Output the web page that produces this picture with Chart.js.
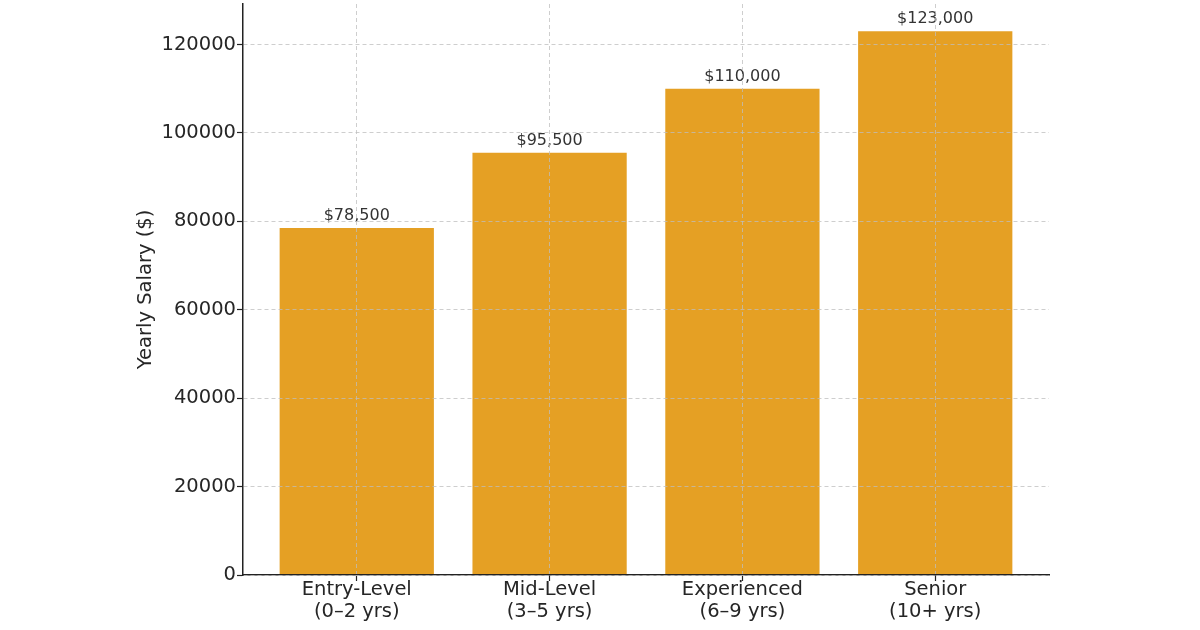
<!DOCTYPE html>
<html>
<head>
<meta charset="utf-8">
<title>Yearly Salary by Experience Level</title>
<script src="https://cdn.jsdelivr.net/npm/chart.js@4.4.0/dist/chart.umd.min.js"></script>
<style>
  html, body { margin: 0; padding: 0; background: #ffffff; overflow: hidden; }
  #wrap { width: 1200px; height: 660px; }
</style>
</head>
<body>
<div id="wrap"><canvas id="salaryChart" width="1200" height="660"></canvas></div>
<script>
// data
const categories = [
  ["Entry-Level", "(0–2 yrs)"],
  ["Mid-Level", "(3–5 yrs)"],
  ["Experienced", "(6–9 yrs)"],
  ["Senior", "(10+ yrs)"]
];
const salaries = [78500, 95500, 110000, 123000];
const yTicks = [0, 20000, 40000, 60000, 80000, 100000, 120000];
const yMax = 129150;
const xMin = -0.59;
const xMax = 3.59;

Chart.defaults.font.family = "'DejaVu Sans', sans-serif";
Chart.defaults.color = "#262626";

// "$78,500" style labels over each bar
const barLabels = {
  id: "barLabels",
  afterDatasetsDraw(chart) {
    const ctx = chart.ctx;
    const meta = chart.getDatasetMeta(0);
    ctx.save();
    ctx.font = "16px 'DejaVu Sans'";
    ctx.fillStyle = "#333333";
    ctx.textAlign = "center";
    ctx.textBaseline = "alphabetic";
    meta.data.forEach((bar, i) => {
      ctx.fillText("$" + salaries[i].toLocaleString("en-US"), bar.x, bar.y - 8);
    });
    ctx.restore();
  }
};

const gridOpts = {
  z: 1,
  offset: false,
  color: "rgba(190,190,190,0.75)",
  lineWidth: 1,
  drawTicks: true,
  tickLength: 6,
  tickColor: "#222222",
  tickWidth: 1.2,
  tickBorderDash: []
};
const borderOpts = { display: true, z: 1, color: "#222222", width: 1.5, dash: [4, 3] };

const ctx = document.getElementById("salaryChart").getContext("2d");

new Chart(ctx, {
  type: "bar",
  data: {
    datasets: [{
      label: "Yearly Salary",
      data: salaries.map((v, i) => ({ x: i, y: v })),
      backgroundColor: "#E5A024",
      borderWidth: 0,
      barPercentage: 0.8,
      categoryPercentage: 1.0
    }]
  },
  options: {
    responsive: false,
    animation: false,
    layout: { padding: { left: 130, right: 151, top: 4, bottom: 3 } },
    plugins: {
      legend: { display: false },
      tooltip: { enabled: false }
    },
    scales: {
      x: {
        type: "linear",
        offset: false,
        min: xMin,
        max: xMax,
        afterBuildTicks: (scale) => { scale.ticks = categories.map((c, i) => ({ value: i })); },
        afterFit: (scale) => {
          scale.height = 82;
          scale.paddingLeft = 0;
          scale.paddingRight = 0;
        },
        ticks: {
          autoSkip: false,
          maxRotation: 0,
          padding: -2,
          font: { size: 19.5, lineHeight: 1.13 },
          color: "#262626",
          callback: (v) => categories[v]
        },
        grid: gridOpts,
        border: borderOpts,
        title: {
          display: true,
          text: "Experience Level",
          font: { size: 19.5 },
          color: "#262626"
        }
      },
      y: {
        min: 0,
        max: yMax,
        afterBuildTicks: (scale) => { scale.ticks = yTicks.map(v => ({ value: v })); },
        afterFit: (scale) => {
          scale.width = 113;
          scale.paddingTop = 0;
          scale.paddingBottom = 0;
        },
        ticks: {
          padding: 1,
          font: { size: 19.5 },
          color: "#262626",
          callback: (v) => String(v)
        },
        grid: gridOpts,
        border: borderOpts,
        title: {
          display: true,
          text: "Yearly Salary ($)",
          font: { size: 19.5 },
          color: "#262626"
        }
      }
    }
  },
  plugins: [barLabels]
});
</script>
</body>
</html>
